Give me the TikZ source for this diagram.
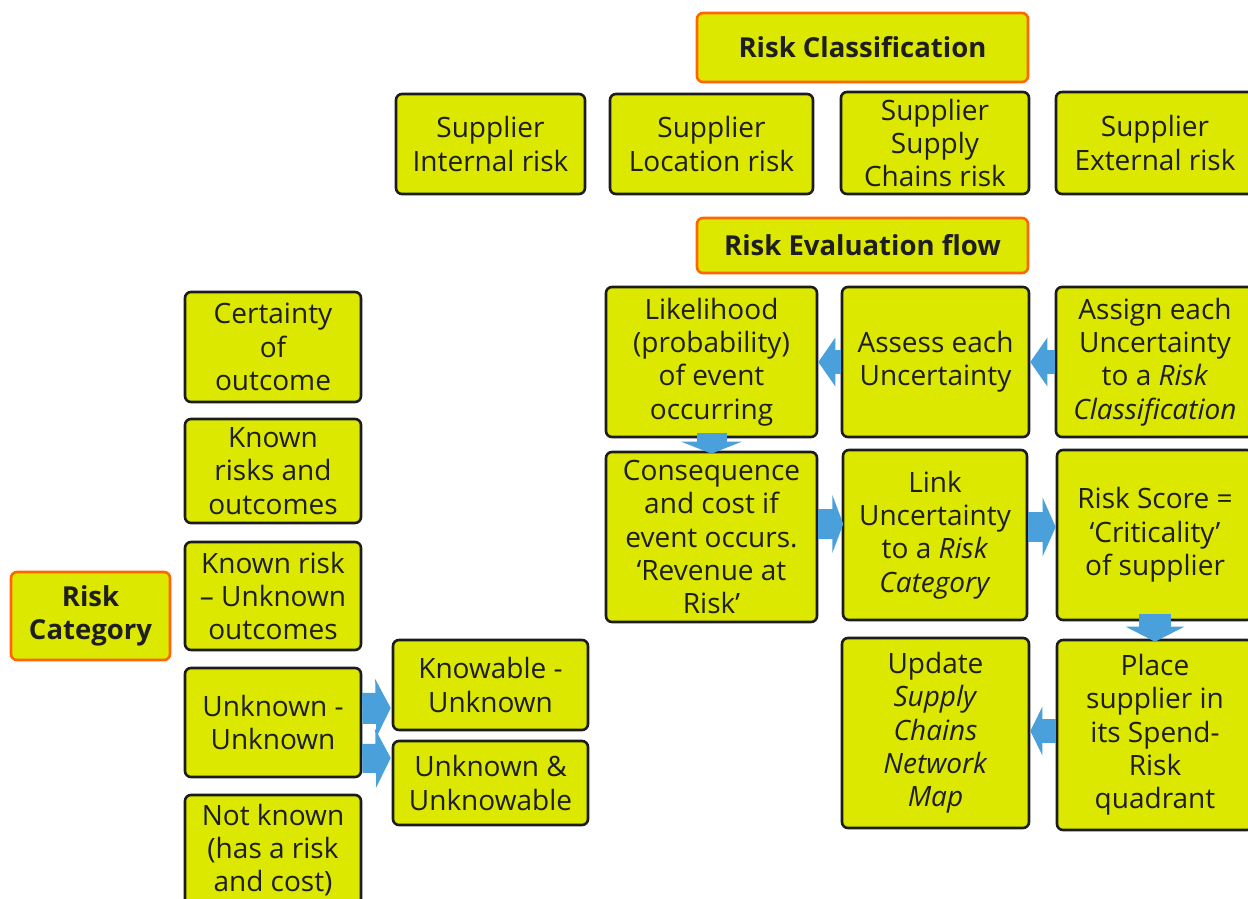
\documentclass[tikz,border=0pt]{standalone}
\usepackage{fontspec}
\setmainfont{Open Sans}
\usetikzlibrary{arrows.meta}
\definecolor{lime}{RGB}{220,232,0}
\definecolor{boxline}{RGB}{28,28,28}
\definecolor{orangeline}{RGB}{255,102,0}
\definecolor{ablue}{RGB}{74,160,218}
\definecolor{txt}{RGB}{30,30,30}
\newcommand{\mainsz}{\fontsize{28}{33.3}\selectfont}
\tikzset{
  box/.style={draw=boxline, line width=2.6pt, fill=lime, rounded corners=6pt,
    align=center, inner sep=0pt, text=txt, font=\mainsz},
  hbox/.style={box, draw=orangeline, font=\fontsize{27.5}{33.3}\selectfont\bfseries},
  wh/.style 2 args={minimum width=#1pt, minimum height=#2pt},
  barrow/.style args={#1/#2/#3}{draw=ablue, line width=#1pt,
    -{Triangle[width=#2pt,length=#3pt]}},
}
\begin{document}
\begin{tikzpicture}[x=1pt,y=-1pt]
\useasboundingbox (0,0) rectangle (1248,899);
\clip (0,0) rectangle (1248,899);
% headers
\node[hbox, wh={331}{69}] (rc) at (862.5,47.5) {Risk Classification};
\node[hbox, wh={331}{55}] (ref) at (862.5,245.5) {Risk Evaluation flow};
\node[hbox, wh={159}{88}] (rcat) at (90.5,616) {Risk\\Category};
% classification
\node[box, wh={189}{100}] (s1) at (490.5,144) {Supplier\\Internal risk};
\node[box, wh={203}{100}] (s2) at (711.5,144) {Supplier\\Location risk};
\node[box, wh={188}{102}] (s3) at (935,143) {Supplier\\Supply\\Chains risk};
\node[box, wh={198}{102}] (s4) at (1155,143) {Supplier\\External risk};
% evaluation flow
\node[box, wh={211}{150}] (lik) at (711.5,362) {Likelihood\\(probability)\\of event\\occurring};
\node[box, wh={187}{150}] (ass) at (935.5,362) {Assess each\\Uncertainty};
\node[box, wh={198}{150}] (asg) at (1155,362) {Assign each\\Uncertainty\\to a \textit{Risk}\\\textit{Classification}};
\node[box, wh={211}{170}] (con) at (711.5,537) {Consequence\\and cost if\\event occurs.\\‘Revenue at\\Risk’};
\node[box, wh={184}{170}] (lnk) at (935,535) {Link\\Uncertainty\\to a \textit{Risk}\\\textit{Category}};
\node[box, wh={196}{170}] (rs) at (1155,535) {Risk Score =\\‘Criticality’\\of supplier};
\node[box, wh={187}{190}] (upd) at (935.5,733) {Update\\\textit{Supply}\\\textit{Chains}\\\textit{Network}\\\textit{Map}};
\node[box, wh={196}{190}] (plc) at (1155,735) {Place\\supplier in\\its Spend-\\Risk\\quadrant};
% categories
\node[box, wh={176}{110}] (c1) at (273,347) {Certainty\\of\\outcome};
\node[box, wh={176}{104}] (c2) at (273,471) {Known\\risks and\\outcomes};
\node[box, wh={176}{108}] (c3) at (273,596) {Known risk\\– Unknown\\outcomes};
\node[box, wh={176}{109}] (c4) at (273,722.5) {Unknown -\\Unknown};
\node[box, wh={176}{110}] (c5) at (273,850) {Not known\\(has a risk\\and cost)};
\node[box, wh={195}{90}] (kw) at (490.5,685) {Knowable -\\Unknown};
\node[box, wh={195}{84}] (uk) at (490.5,783) {Unknown \&\\Unknowable};
% arrows
\draw[barrow={24/48/17}] (ass.west) -- (lik.east);
\draw[barrow={24/48/17}] (asg.west) -- (ass.east);
\draw[barrow={30/60/12}] ([yshift=5pt]lik.south) -- ([yshift=-3pt]con.north);
\draw[barrow={30/58/11}] ([yshift=13pt]con.east) -- ([yshift=13pt,xshift=25pt]con.east);
\draw[barrow={30/58/13}] ([yshift=8pt]lnk.east) -- ([yshift=8pt]rs.west);
\draw[barrow={32/58/15}] ([yshift=7pt]rs.south) -- ([yshift=-3pt]plc.north);
\draw[barrow={24/48/12}] ([yshift=4pt]plc.west) -- ([yshift=2pt]upd.east);
\draw[barrow={31/58/15}] ([yshift=14pt]c4.east) -- ([yshift=-23pt,xshift=-1pt]kw.west);
\draw[barrow={29/58/15}] ([yshift=-36pt]c4.east) -- ([yshift=25pt,xshift=-1pt]uk.west);
\end{tikzpicture}
\end{document}
